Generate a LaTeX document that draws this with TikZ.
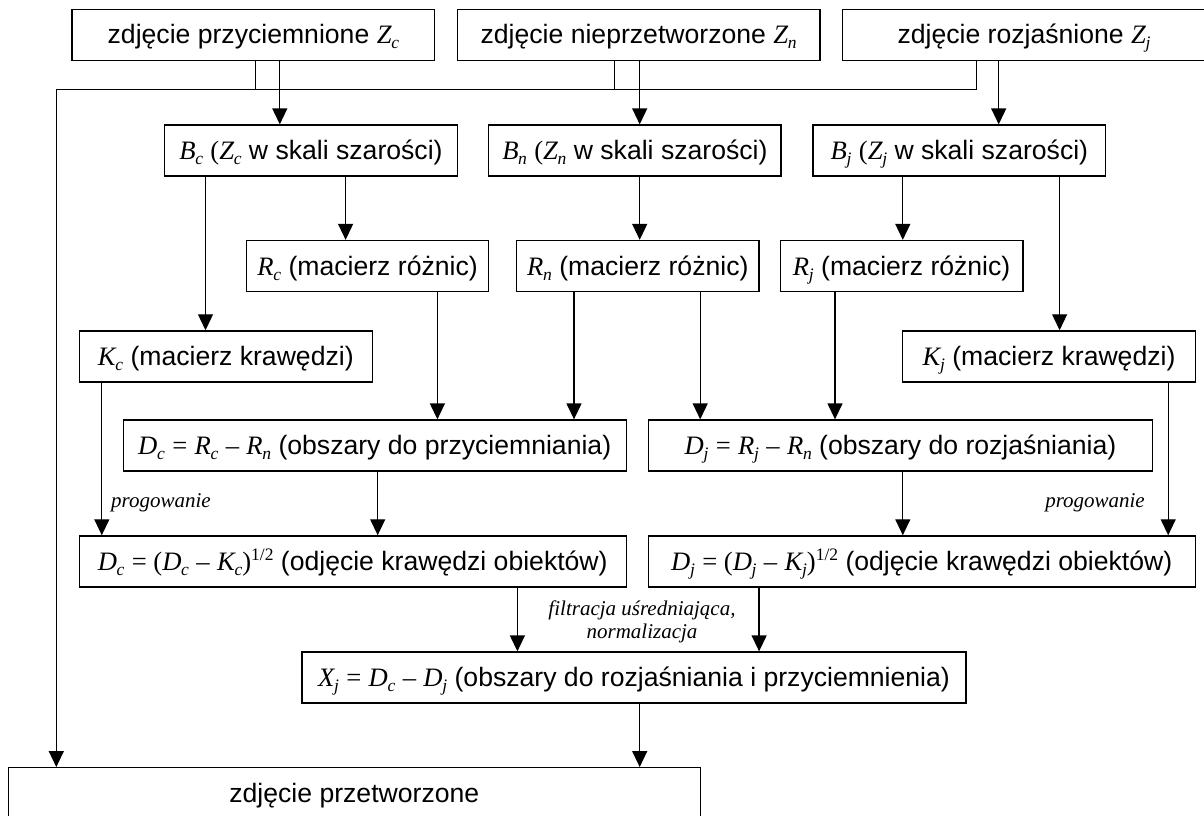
\documentclass[tikz,border=0pt]{standalone}
\usepackage{fontspec}
\setmainfont{Liberation Sans}
\newfontfamily\tms{Liberation Serif}
\usetikzlibrary{arrows.meta}
\newcommand{\mv}[2]{{\tms\itshape #1}\kern-0.3pt\raisebox{-5pt}{\tms\itshape\fontsize{17.5}{17.5}\selectfont #2}}
\newcommand{\half}{\raisebox{10pt}{\tms\fontsize{17.5}{17.5}\selectfont 1/2}}
\begin{document}
\begin{tikzpicture}[x=1pt,y=-1pt,
  box/.style={draw, line width=1.3pt, inner sep=0pt, align=center,
    text height=24pt, text depth=6pt,
    font=\fontsize{26.6}{32}\selectfont},
  conn/.style={line width=1.3pt},
  arr/.style={line width=1.3pt, -{Triangle[width=15pt,length=16pt]}},
  lab/.style={inner sep=0pt, align=center, font=\tms\itshape\fontsize{21}{22.6}\selectfont}]
\useasboundingbox (0,0) rectangle (1204,816);

% top row
\node[box, minimum width=362.7pt, minimum height=51pt] (z1) at (253.35,34.8) {zdjęcie przyciemnione \mv{Z}{c}};
\node[box, minimum width=362.7pt, minimum height=51pt] (z2) at (638.65,34.8) {zdjęcie nieprzetworzone \mv{Z}{n}};
\node[box, minimum width=362.7pt, minimum height=51pt] (z3) at (1024.05,34.8) {zdjęcie rozjaśnione \mv{Z}{j}};

% B row
\node[box, minimum width=292.7pt, minimum height=51pt] (b1) at (310.95,150.5) {\mv{B}{c} {\tms(}\mv{Z}{c} w skali szarości)};
\node[box, minimum width=292.5pt, minimum height=51pt] (b2) at (634.85,150.5) {\mv{B}{n} {\tms(}\mv{Z}{n} w skali szarości)};
\node[box, minimum width=292.7pt, minimum height=51pt] (b3) at (959.4,150.5) {\mv{B}{j} {\tms(}\mv{Z}{j} w skali szarości)};

% R row
\node[box, minimum width=242.3pt, minimum height=51pt] (r1) at (367.6,266) {\mv{R}{c} (macierz różnic)};
\node[box, minimum width=242.5pt, minimum height=51pt] (r2) at (637.85,266) {\mv{R}{n} (macierz różnic)};
\node[box, minimum width=242.6pt, minimum height=51pt] (r3) at (901.65,266) {\mv{R}{j} (macierz różnic)};

% K row
\node[box, minimum width=293pt, minimum height=51pt] (k1) at (225.8,356.4) {\mv{K}{c} (macierz krawędzi)};
\node[box, minimum width=292.6pt, minimum height=51pt] (k2) at (1049,356.4) {\mv{K}{j} (macierz krawędzi)};

% D row
\node[box, minimum width=503pt, minimum height=51pt] (d1) at (374.7,445.5) {\mv{D}{c} {\tms =} \mv{R}{c} {\tms –} \mv{R}{n} (obszary do przyciemniania)};
\node[box, minimum width=504.6pt, minimum height=51pt] (d2) at (900.5,445.5) {\mv{D}{j} {\tms =} \mv{R}{j} {\tms –} \mv{R}{n} (obszary do rozjaśniania)};

% D2 row
\node[box, minimum width=547pt, minimum height=51pt] (e1) at (352.7,561.4) {\mv{D}{c} {\tms = (}\mv{D}{c} {\tms –} \mv{K}{c}{\tms )}\half{} (odjęcie krawędzi obiektów)};
\node[box, minimum width=547pt, minimum height=51pt] (e2) at (921.7,561.4) {\mv{D}{j} {\tms = (}\mv{D}{j} {\tms –} \mv{K}{j}{\tms )}\half{} (odjęcie krawędzi obiektów)};

% X row
\node[box, minimum width=664pt, minimum height=51pt] (xx) at (634,677.5) {\mv{X}{j} {\tms =} \mv{D}{c} {\tms –} \mv{D}{j} (obszary do rozjaśniania i przyciemnienia)};

% final
\node[box, minimum width=691.8pt, minimum height=51pt] (f) at (354.3,793.2) {zdjęcie przetworzone};

% labels
\node[lab, anchor=base west] (p1) at (111,507) {progowanie};
\node[lab, anchor=base east] (p2) at (1145,507) {progowanie};
\node[lab] (fl) at (642,622) {filtracja uśredniająca,\\normalizacja};

% x positions of connectors
\coordinate (hL) at (56.3,89.3);
\coordinate (cz1a) at (255.6,0);
\coordinate (cz1b) at (279.8,0);
\coordinate (cz2a) at (614.6,0);
\coordinate (cz2b) at (639.7,0);
\coordinate (cz3a) at (976.4,0);
\coordinate (cz3b) at (998.7,0);
\coordinate (cb1k) at (205.5,0);
\coordinate (cb1r) at (345.6,0);
\coordinate (cb2r) at (639.7,0);
\coordinate (cb3r) at (902.8,0);
\coordinate (cb3k) at (1059.6,0);
\coordinate (cr1) at (437.4,0);
\coordinate (cr2a) at (574,0);
\coordinate (cr2b) at (700.2,0);
\coordinate (cr3) at (835,0);
\coordinate (ck1) at (101.8,0);
\coordinate (cd1) at (377.7,0);
\coordinate (cd2) at (902.8,0);
\coordinate (ck2) at (1168.2,0);
\coordinate (ce1) at (517.4,0);
\coordinate (ce2) at (759.1,0);
\coordinate (cx) at (639.7,0);

% feeder line to final image
\draw[arr] (z3.south -| cz3a) |- (hL) -- (f.north -| hL);
\draw[conn] (z1.south -| cz1a) -- (cz1a |- hL);
\draw[conn] (z2.south -| cz2a) -- (cz2a |- hL);

% top to B
\draw[arr] (z1.south -| cz1b) -- (b1.north -| cz1b);
\draw[arr] (z2.south -| cz2b) -- (b2.north -| cz2b);
\draw[arr] (z3.south -| cz3b) -- (b3.north -| cz3b);

% B to R / K
\draw[arr] (b1.south -| cb1k) -- (k1.north -| cb1k);
\draw[arr] (b1.south -| cb1r) -- (r1.north -| cb1r);
\draw[arr] (b2.south -| cb2r) -- (r2.north -| cb2r);
\draw[arr] (b3.south -| cb3r) -- (r3.north -| cb3r);
\draw[arr] (b3.south -| cb3k) -- (k2.north -| cb3k);

% R to D
\draw[arr] (r1.south -| cr1) -- (d1.north -| cr1);
\draw[arr] (r2.south -| cr2a) -- (d1.north -| cr2a);
\draw[arr] (r2.south -| cr2b) -- (d2.north -| cr2b);
\draw[arr] (r3.south -| cr3) -- (d2.north -| cr3);

% to D2
\draw[arr] (k1.south -| ck1) -- (e1.north -| ck1);
\draw[arr] (d1.south -| cd1) -- (e1.north -| cd1);
\draw[arr] (d2.south -| cd2) -- (e2.north -| cd2);
\draw[arr] (k2.south -| ck2) -- (e2.north -| ck2);

% to X
\draw[arr] (e1.south -| ce1) -- (xx.north -| ce1);
\draw[arr] (e2.south -| ce2) -- (xx.north -| ce2);

% X to final
\draw[arr] (xx.south -| cx) -- (f.north -| cx);
\end{tikzpicture}
\end{document}
